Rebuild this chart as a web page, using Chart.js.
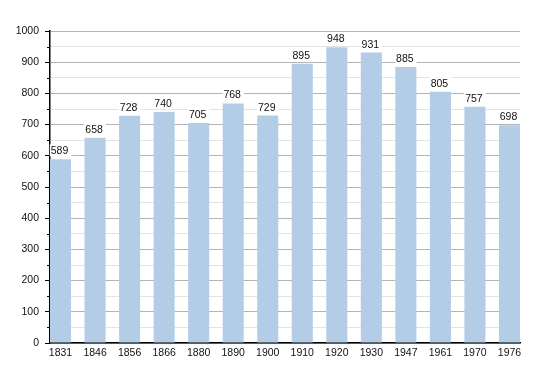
<!DOCTYPE html>
<html>
<head>
<meta charset="utf-8">
<script src="https://cdn.jsdelivr.net/npm/chart.js@4"></script>
<style>
  html, body { margin: 0; padding: 0; background: #fff; }
  #wrap { width: 550px; height: 373px; }
</style>
</head>
<body>
<div id="wrap"><canvas id="myChart" width="550" height="373"></canvas></div>
<script>
const years = ["1831", "1846", "1856", "1866", "1880", "1890", "1900", "1910", "1920", "1930", "1947", "1961", "1970", "1976"];
const population = [589, 658, 728, 740, 705, 768, 729, 895, 948, 931, 885, 805, 757, 698];
const yMin = 0;
const yMax = 1000;

const barFrac = 0.61;           // bar width as a share of the spacing
const edge = barFrac / 2;       // first bar sits on the y axis, last one on the right edge
const fontFamily = '"Liberation Sans", Arial, sans-serif';

// draws the value above each bar, on a small white box
const valueLabels = {
    id: 'valueLabels',
    afterDatasetsDraw(chart) {
        const ctx = chart.ctx;
        const meta = chart.getDatasetMeta(0);
        ctx.save();
        ctx.font = '10.5px ' + fontFamily;
        ctx.textAlign = 'center';
        ctx.textBaseline = 'alphabetic';
        meta.data.forEach((bar, i) => {
            const txt = String(population[i]);
            const w = ctx.measureText(txt).width;
            const base = bar.y - 5;
            ctx.fillStyle = '#fff';
            ctx.fillRect(bar.x - w / 2 - 2, base - 10, w + 4, 12);
            ctx.fillStyle = '#111';
            ctx.fillText(txt, bar.x - 1, base);
        });
        ctx.restore();
    }
};

// short tick marks at the in-between (50) steps
const minorTicks = {
    id: 'minorTicks',
    afterDraw(chart) {
        const y = chart.scales.y;
        const ctx = chart.ctx;
        ctx.save();
        ctx.strokeStyle = '#000';
        ctx.lineWidth = 1;
        ctx.beginPath();
        y.ticks.forEach(t => {
            if (t.value % 100 === 0) return;
            const py = Math.round(y.getPixelForValue(t.value)) + 0.5;
            ctx.moveTo(y.right - 3, py);
            ctx.lineTo(y.right, py);
        });
        ctx.stroke();
        ctx.restore();
    }
};

new Chart(document.getElementById("myChart"), {
    type: 'bar',
    data: {
        datasets: [{
            data: population.map((v, i) => ({ x: i, y: v })),
            backgroundColor: 'rgb(180,205,230)',
            borderWidth: 0,
            categoryPercentage: 1,
            barPercentage: barFrac
        }]
    },
    options: {
        responsive: false,
        animation: false,
        layout: { padding: { left: 0, right: 30, top: 31, bottom: 0 } },
        plugins: {
            legend: { display: false },
            tooltip: { enabled: false }
        },
        scales: {
            x: {
                type: 'linear',
                offset: false,
                min: -edge,
                max: years.length - 1 + edge,
                grid: { display: false, drawTicks: false },
                border: { color: '#000', width: 1.5 },
                ticks: {
                    stepSize: 1,
                    includeBounds: false,
                    color: '#111',
                    padding: 4,
                    maxRotation: 0,
                    autoSkip: false,
                    font: { family: fontFamily, size: 10.5 },
                    callback: v => (Number.isInteger(v) ? years[v] : '')
                },
                afterFit(scale) { scale.height = 30; }
            },
            y: {
                min: yMin,
                max: yMax,
                ticks: {
                    stepSize: 50,
                    color: '#111',
                    padding: 6,
                    font: { family: fontFamily, size: 10.5 },
                    callback: v => (v % 100 === 0 ? v : '')
                },
                grid: {
                    color: c => (c.tick && c.tick.value % 100 === 0 ? '#b4b4b4' : '#e4e4e4'),
                    tickColor: c => (c.tick && c.tick.value % 100 === 0 ? '#000' : 'rgba(0,0,0,0)'),
                    tickLength: 5,
                    lineWidth: 1
                },
                border: { color: '#000', width: 1.5 },
                afterFit(scale) { scale.width = 50; }
            }
        }
    },
    plugins: [valueLabels, minorTicks]
});
</script>
</body>
</html>
